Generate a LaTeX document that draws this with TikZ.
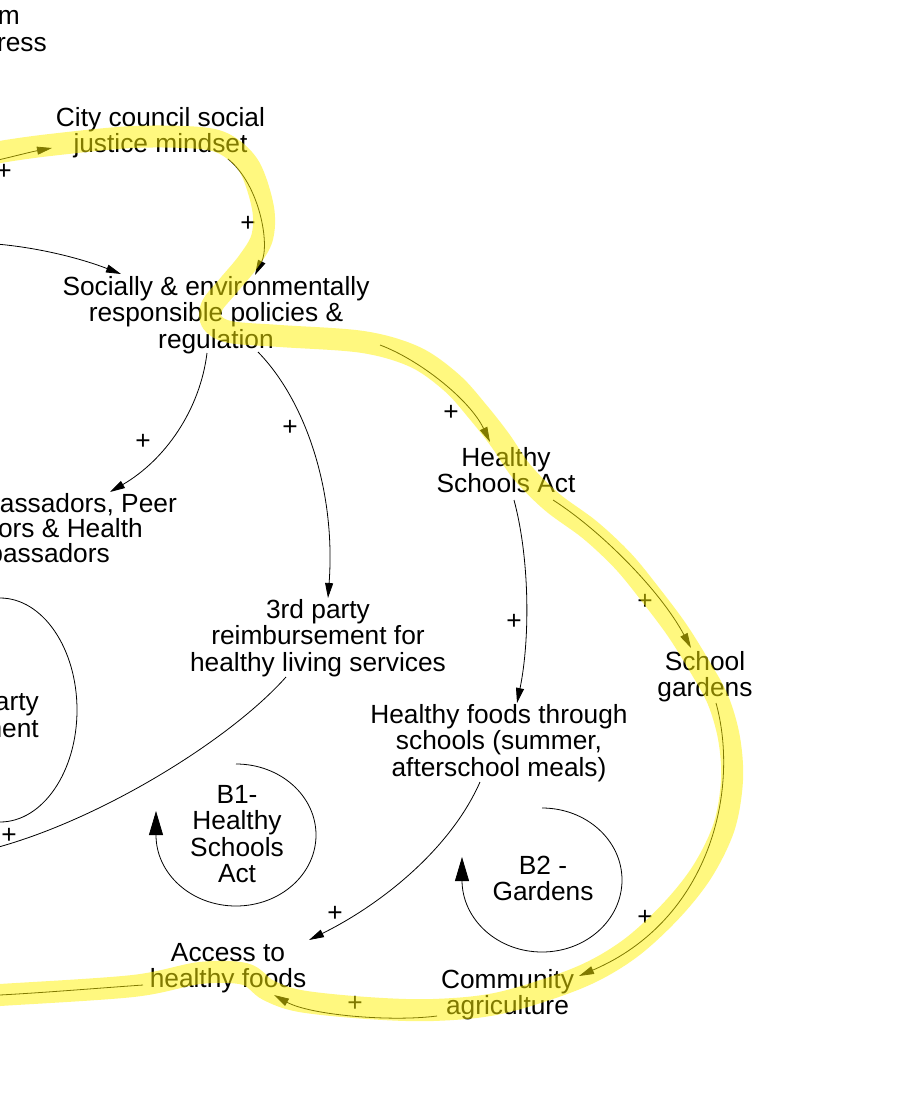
\documentclass[tikz,border=0pt]{standalone}
\usepackage{fontspec}
\setmainfont{Liberation Sans}
\usetikzlibrary{arrows.meta}
\newcommand{\varfont}{\fontsize{26.3}{26.5}\selectfont}
% invisible strut fixing the height of a first text line
\newcommand{\fl}{\rule{0pt}{20pt}}
\begin{document}
\begin{tikzpicture}[x=1pt,y=-1pt,
  var/.style={align=center, inner sep=0pt, anchor=north, font=\varfont},
  frag/.style={inner sep=0pt, anchor=base east, font=\varfont},
  pol/.style={inner sep=0pt, font=\varfont},
  link/.style={line width=0.8pt, -{Triangle[length=15pt,width=8pt]}},
  loopline/.style={line width=0.8pt},
  looparrow/.style={line width=0.8pt, -{Triangle[length=24pt,width=14pt]}},
  marker/.style={line width=22pt, draw=yellow, draw opacity=0.5, line cap=round, line join=round}
]
\fill[white] (0,0) rectangle (898,1099);
\useasboundingbox (0,0) rectangle (898,1099);

% variables
\node[frag] (sys1) at (20,25) {m};
\node[frag] (sys2) at (47,52) {ress};
\node[var] (city) at (160.5,106) {\fl City council social\\justice mindset};
\node[var] (soc) at (216,275) {\fl Socially \& environmentally\\responsible policies \&\\regulation};
\node[frag] (amb1) at (177,512) {assadors, Peer};
\node[frag] (amb2) at (143,537) {ors \& Health};
\node[frag] (amb3) at (110,562) {bassadors};
\node[var] (hsa) at (506,446) {\fl Healthy\\Schools Act};
\node[var] (tpr) at (318,598) {\fl 3rd party\\reimbursement for\\healthy living services};
\node[frag] (tpl1) at (39,710) {arty};
\node[frag] (tpl2) at (39,737) {ment};
\node[var] (sg) at (705,650) {\fl School\\gardens};
\node[var] (hf) at (499,703) {\fl Healthy foods through\\schools (summer,\\afterschool meals)};
\node[var] (b1) at (237,783) {\fl B1-\\Healthy\\Schools\\Act};
\node[var] (b2) at (543,854) {\fl B2 -\\Gardens};
\node[var] (acc) at (228,941) {\fl Access to\\healthy foods};
\node[var] (ca) at (507.5,968) {\fl Community\\agriculture};

% connector end points
\coordinate (a-from) at (-20,164);
\coordinate (a-to) at (52,148);
\coordinate (b-from) at (228,159);
\coordinate (b-to) at (255,275);
\coordinate (c-from) at (-20,243);
\coordinate (c-to) at (121,274);
\coordinate (d-from) at (207,353);
\coordinate (d-to) at (110,492);
\coordinate (e-from) at (258,352);
\coordinate (e-to) at (328,598);
\coordinate (f-from) at (380,345);
\coordinate (f-to) at (490,442);
\coordinate (g-from) at (553,500);
\coordinate (g-to) at (691,648);
\coordinate (h-from) at (514,500);
\coordinate (h-to) at (517,703);
\coordinate (i-from) at (716,703);
\coordinate (i-to) at (579,976);
\coordinate (j-from) at (437,1016);
\coordinate (j-to) at (274,995);
\coordinate (k-from) at (480,782);
\coordinate (k-to) at (309,940);
\coordinate (l-from) at (286,677);
\coordinate (l-to) at (-20,852);
\coordinate (m-from) at (143,985);
\coordinate (m-to) at (-20,996);

% causal links
\draw[link] (a-from) .. controls (0,160) and (30,152) .. (a-to);
\draw[link] (b-from) .. controls (260,185) and (270,245) .. (b-to);
\draw[link] (c-from) .. controls (30,245) and (80,258) .. (c-to);
\draw[link] (d-from) .. controls (200,410) and (165,460) .. (d-to);
\draw[link] (e-from) .. controls (305,400) and (336,490) .. (e-to);
\draw[link] (f-from) .. controls (420,360) and (470,400) .. (f-to);
\draw[link] (g-from) .. controls (600,530) and (660,590) .. (g-to);
\draw[link] (h-from) .. controls (530,560) and (530,640) .. (h-to);
\draw[link] (i-from) .. controls (740,790) and (710,920) .. (i-to);
\draw[link] (j-from) .. controls (390,1022) and (310,1015) .. (j-to);
\draw[link] (k-from) .. controls (450,850) and (380,905) .. (k-to);
\draw[link] (l-from) .. controls (230,740) and (100,820) .. (l-to);
\draw[link] (m-from) .. controls (100,988) and (40,993) .. (m-to);

% polarities
\node[pol] (p-a) at (4,172) {+};
\node[pol] (p-b) at (248,224) {+};
\node[pol] (p-d) at (143,442) {+};
\node[pol] (p-e) at (290,428) {+};
\node[pol] (p-f) at (451,413) {+};
\node[pol] (p-g) at (645,602) {+};
\node[pol] (p-h) at (514,622) {+};
\node[pol] (p-i) at (645,918) {+};
\node[pol] (p-j) at (355,1004) {+};
\node[pol] (p-k) at (335,914) {+};
\node[pol] (p-l) at (9,836) {+};

% loop symbols
\draw[loopline] (0,598) arc[start angle=-90, end angle=90, x radius=77, y radius=112];
\draw[looparrow] (236,764) arc[start angle=-90, end angle=180, x radius=80, y radius=71] -- ++(0,-24);
\draw[looparrow] (542,808) arc[start angle=-90, end angle=180, x radius=80, y radius=72] -- ++(0,-23);

% highlighter stroke along the main loop
\draw[marker] plot[smooth, tension=0.55] coordinates {
  (-15,156) (0,152) (50,145) (133,137) (200,138) (228,146) (250,168)
  (263,208) (262,238) (248,262) (228,286) (212,306) (212,322) (230,332)
  (280,336) (363,342) (415,357) (452,383) (478,412) (500,440) (522,472)
  (552,502) (590,530) (623,561) (650,594) (677,630) (700,667) (718,700)
  (729,738) (732,780) (724,827) (702,872) (670,912) (628,950) (578,978)
  (500,1003) (433,1010) (367,1008) (300,1001) (268,990) (245,974)
  (200,973) (133,986) (0,995) (-15,996)};
\end{tikzpicture}
\end{document}
